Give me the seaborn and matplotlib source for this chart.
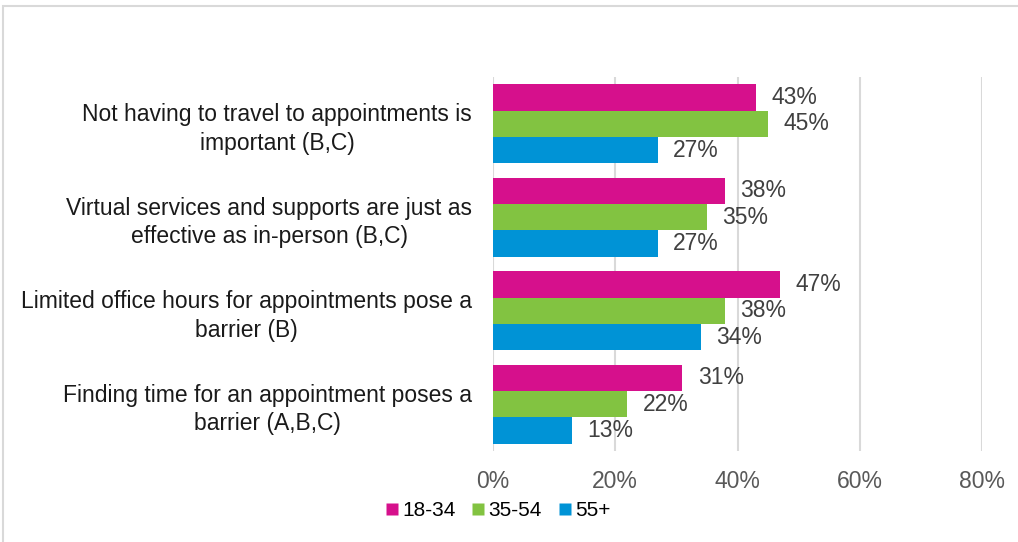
import matplotlib
matplotlib.use("Agg")
import matplotlib.pyplot as plt
import seaborn as sns
import pandas as pd
from matplotlib.patches import Rectangle
from matplotlib.lines import Line2D

categories = [
    "Not having to travel to appointments is\nimportant (B,C)",
    "Virtual services and supports are just as\neffective as in-person (B,C)",
    "Limited office hours for appointments pose a\nbarrier (B)",
    "Finding time for an appointment poses a\nbarrier (A,B,C)",
]
series = ["18-34", "35-54", "55+"]
vals_18_34 = [43, 38, 47, 31]
vals_35_54 = [45, 35, 38, 22]
vals_55p = [27, 27, 34, 13]
colors = ["#D6108C", "#82C341", "#0093D6"]
xticks = [0, 20, 40, 60, 80]

rows = []
for s, vals in zip(series, [vals_18_34, vals_35_54, vals_55p]):
    for c, v in zip(categories, vals):
        rows.append({"cat": c, "group": s, "val": v})
df = pd.DataFrame(rows)

sns.set_style("white")
plt.rcParams["font.family"] = ["Liberation Sans", "DejaVu Sans"]

FS = 16.5
fig = plt.figure(figsize=(10.18, 5.42), dpi=100)
ax = fig.add_axes([493 / 1018, 1 - 451 / 542, (982 - 493) / 1018, (451 - 77) / 542])

sns.barplot(data=df, y="cat", x="val", hue="group", order=categories,
            hue_order=series, palette=colors, orient="h", width=0.85,
            gap=0, saturation=1, legend=False, ax=ax, edgecolor="none")

ax.set_xlim(0, 80)
ax.set_xticks(xticks)
ax.set_xticklabels([f"{t}%" for t in xticks], fontsize=FS, color="#595959")
ax.tick_params(axis="x", length=0, pad=14)
ax.tick_params(axis="y", length=0, pad=15)
for lbl in ax.get_yticklabels():
    lbl.set_fontsize(FS)
    lbl.set_color("#1a1a1a")
    lbl.set_multialignment("center")
    lbl.set_linespacing(1.3)
ax.set_xlabel("")
ax.set_ylabel("")
ax.grid(axis="x", color="#d9d9d9", linewidth=1.5)
ax.set_axisbelow(True)
for sp in ax.spines.values():
    sp.set_visible(False)

for cont in ax.containers:
    ax.bar_label(cont, labels=[f"{v:.0f}%" for v in cont.datavalues],
                 padding=11, fontsize=FS, color="#404040")

handles = [Line2D([0], [0], marker="s", linestyle="none", markersize=8,
                  markerfacecolor=c, markeredgecolor="none") for c in colors]
leg = fig.legend(handles, series, loc="center", bbox_to_anchor=(496 / 1018, 1 - 511 / 542),
                 ncol=3, frameon=False, fontsize=15, handletextpad=0.0,
                 columnspacing=0.6, handlelength=1.0)
for t in leg.get_texts():
    t.set_color("#000000")

fig.patches.append(Rectangle((3 / 1018, -0.05), 1.1, 1 - 6 / 542 + 0.05,
                             transform=fig.transFigure, fill=False,
                             edgecolor="#d9d9d9", linewidth=1.5))

fig.savefig("out.png", dpi=100)
